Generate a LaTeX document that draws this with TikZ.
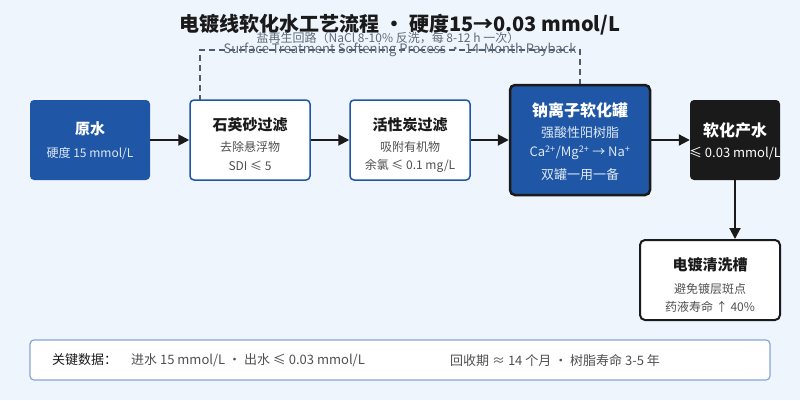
\documentclass[tikz,border=0pt]{standalone}
\usepackage{fontspec}
\setmainfont{Noto Sans CJK SC}
\usetikzlibrary{arrows.meta,positioning}
\definecolor{bgcol}{HTML}{EEF5FD}
\definecolor{boxblue}{HTML}{1F57A6}
\definecolor{ink}{HTML}{1A1A1A}
\definecolor{bodygray}{HTML}{505050}
\definecolor{paleblue}{HTML}{DCE7F5}
\definecolor{loopgray}{HTML}{4F5D6B}
\definecolor{notegray}{HTML}{5F6B78}
\definecolor{stripline}{HTML}{86A6D6}

\tikzset{
  bluebox/.style={fill=boxblue, rounded corners=4pt, inner sep=0pt},
  whitebox/.style={draw=boxblue, line width=1.5pt, fill=white, rounded corners=4pt, inner sep=0pt},
  tankbox/.style={draw=ink, line width=2.5pt, fill=boxblue, rounded corners=5pt, inner sep=0pt},
  blackbox/.style={fill=ink, rounded corners=4pt, inner sep=0pt},
  washbox/.style={draw=ink, line width=2pt, fill=white, rounded corners=5pt, inner sep=0pt},
  strip/.style={draw=stripline, line width=1.2pt, fill=white, rounded corners=4pt, inner sep=0pt},
  ttlw/.style={font=\bfseries\fontsize{15}{18}\selectfont, text=white, inner sep=0pt},
  ttlk/.style={font=\bfseries\fontsize{15}{18}\selectfont, text=ink, inner sep=0pt},
  txtw/.style={font=\fontsize{12}{14}\selectfont, text=paleblue, inner sep=0pt},
  txtk/.style={font=\fontsize{12}{14}\selectfont, text=bodygray, inner sep=0pt},
  keytxt/.style={font=\fontsize{13}{15}\selectfont, text=bodygray, inner sep=0pt, anchor=west},
  note/.style={font=\fontsize{12}{14}\selectfont, text=notegray, inner sep=0pt},
  flow/.style={draw=ink, line width=2pt, -{Triangle[length=11pt,width=11pt]}},
  regen/.style={draw=loopgray, line width=1.5pt, dash pattern=on 6pt off 4pt}
}

\begin{document}
\begin{tikzpicture}[x=1pt,y=-1pt]
\useasboundingbox (0,0) rectangle (800,400);
\fill[bgcol] (0,0) rectangle (800,400);

% Title
\node[font=\bfseries\fontsize{20}{24}\selectfont, text=ink, inner sep=0pt] (title) at (400,25) {电镀线软化水工艺流程 · 硬度15→0.03 mmol/L};

% Regeneration loop (tank back to sand filter)
\coordinate (regenturn) at (200,50);
\coordinate (regenend) at (200,100);
\draw[regen] (580,85) |- (regenturn) -- (regenend);
\node[note] (regenlbl) at (388,38) {盐再生回路（NaCl 8-10\% 反洗，每 8-12 h 一次）};
\node[note, font=\fontsize{13}{15}\selectfont] (subtitle) at (400,50) {Surface Treatment Softening Process · 14-Month Payback};

% Process boxes
\node[bluebox, minimum width=120pt, minimum height=80pt] (raw) at (90,140) {};
\node[whitebox, minimum width=120pt, minimum height=80pt] (sand) at (250,140) {};
\node[whitebox, minimum width=120pt, minimum height=80pt] (carbon) at (410,140) {};
\node[tankbox, minimum width=140pt, minimum height=110pt] (tank) at (580,140) {};
\node[blackbox, minimum width=90pt, minimum height=80pt] (product) at (735,140) {};
\node[washbox, minimum width=140pt, minimum height=80pt] (rinse) at (710,280) {};

% Box texts
\node[ttlw] (rawt) at (90,129) {原水};
\node[txtw] (rawa) at (90,153) {硬度 15 mmol/L};

\node[ttlk] (sandt) at (250,125) {石英砂过滤};
\node[txtk] (sanda) at (250,147) {去除悬浮物};
\node[txtk] (sandb) at (250,166) {SDI ≤ 5};

\node[ttlk] (carbont) at (410,125) {活性炭过滤};
\node[txtk] (carbona) at (410,147) {吸附有机物};
\node[txtk] (carbonb) at (410,166) {余氯 ≤ 0.1 mg/L};

\node[ttlw, font=\bfseries\fontsize{16}{19}\selectfont] (tankt) at (580,110) {钠离子软化罐};
\node[txtw, font=\fontsize{13}{15}\selectfont] (tanka) at (580,133) {强酸性阳树脂};
\node[txtw, font=\fontsize{13}{15}\selectfont] (tankb) at (580,153) {Ca\textsuperscript{2+}/Mg\textsuperscript{2+} → Na\textsuperscript{+}};
\node[txtw, font=\fontsize{13}{15}\selectfont] (tankc) at (580,175) {双罐一用一备};

\node[ttlw, font=\bfseries\fontsize{16}{19}\selectfont] (productt) at (735,130) {软化产水};
\node[txtw, text=white, font=\fontsize{13}{15}\selectfont] (producta) at (735,153) {≤ 0.03 mmol/L};

\node[ttlk] (rinset) at (710,265) {电镀清洗槽};
\node[txtk] (rinsea) at (710,289) {避免镀层斑点};
\node[txtk] (rinseb) at (710,307) {药液寿命 ↑ 40\%};

% Flow arrows
\draw[flow] (raw) -- (sand);
\draw[flow] (sand) -- (carbon);
\draw[flow] (carbon) -- (tank);
\draw[flow] (tank) -- (product);
\draw[flow] (product) -- (product |- rinse.north);

% Key data strip
\node[strip, minimum width=740pt, minimum height=40pt] (keydata) at (400,360) {};
\node[keytxt, text=ink] (keyhead) at (52,360) {关键数据：};
\node[keytxt] (keyin) at (131,360) {进水 15 mmol/L · 出水 ≤ 0.03 mmol/L};
\node[keytxt] (keypay) at (450,360) {回收期 ≈ 14 个月 · 树脂寿命 3-5 年};
\end{tikzpicture}
\end{document}
